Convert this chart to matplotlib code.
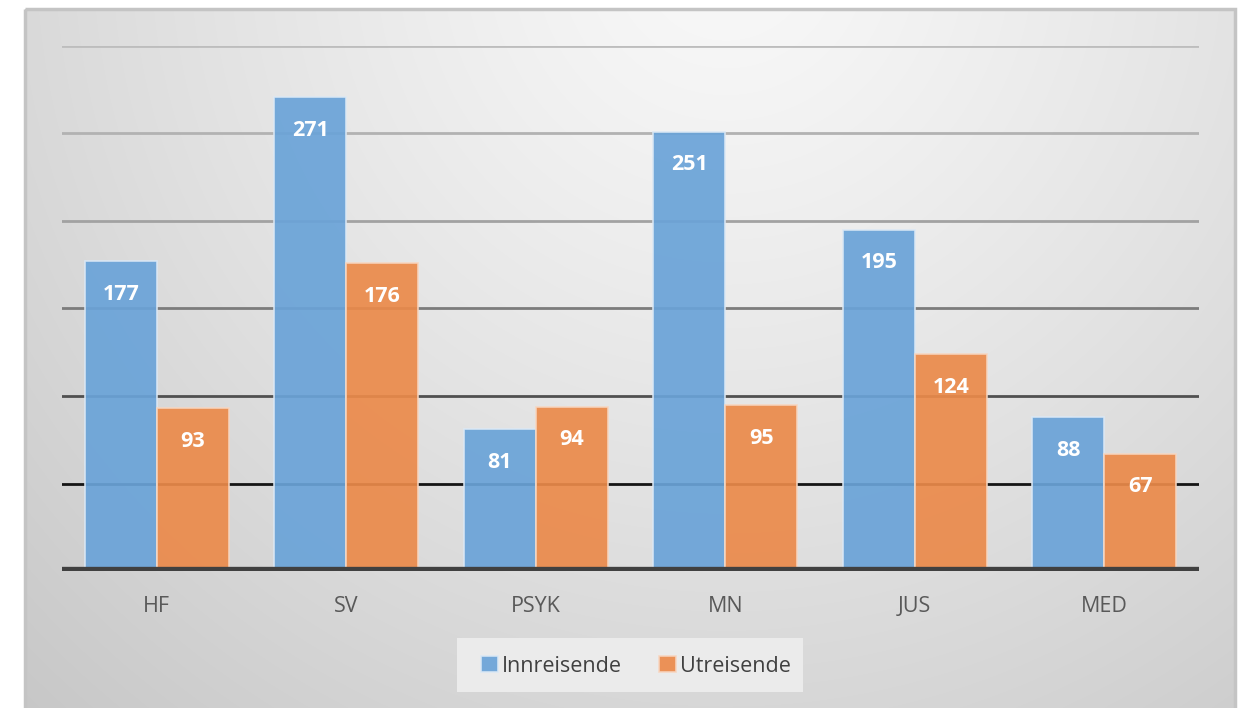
import numpy as np
import matplotlib
matplotlib.use("Agg")
import matplotlib.pyplot as plt
from matplotlib.patches import Rectangle

categories = ["HF", "SV", "PSYK", "MN", "JUS", "MED"]
innreisende = [177, 271, 81, 251, 195, 88]
utreisende = [93, 176, 94, 95, 124, 67]
series_names = ["Innreisende", "Utreisende"]
grid_values = [50, 100, 150, 200, 250, 300]

W, H = 1243, 708
fig = plt.figure(figsize=(W / 100, H / 100), dpi=100)
fig.patch.set_facecolor("white")

# background gradient panel
bg = fig.add_axes([0, 0, 1, 1], zorder=0)
bg.set_xlim(0, W)
bg.set_ylim(H, 0)
bg.axis("off")
yy, xx = np.mgrid[0:H, 0:W]
d = np.sqrt((xx - 720) ** 2 + ((yy + 60) * 1.0) ** 2)
v = 0.975 - 0.16 * np.clip(d / 900, 0, 1.2) ** 1.2
img = np.dstack([v, v, v])
bg.imshow(img, extent=[25, 1235, 708, 9], aspect="auto", zorder=0)
bg.add_patch(Rectangle((25, 9), 1210, 720, fill=False, edgecolor="#c4c4c4", lw=2.5, zorder=1))
# legend box
bg.add_patch(Rectangle((457, 638), 346, 54, facecolor="#ebebeb", edgecolor="none", zorder=1))

ax = fig.add_axes([62 / W, 137 / H, (1199 - 62) / W, (571 - 46) / H], zorder=2)
ax.patch.set_alpha(0)
ax.set_xlim(-0.5, len(categories) - 0.5)
ax.set_ylim(0, 300)

grid_colors = ["#151515", "#505050", "#7c7c7c", "#a2a2a2", "#b2b2b2", "#bdbdbd"]
for gv, gc in zip(grid_values, grid_colors):
    ax.axhline(gv, color=gc, lw=2, zorder=1)
ax.axhline(0, color="#404040", lw=6, zorder=4)

x = np.arange(len(categories))
bw = 0.38
blue = "#6aa3d8"
orange = "#eb8a4a"
b1 = ax.bar(x - bw / 2, innreisende, bw, color=blue, alpha=0.92, edgecolor="#dbe8f5", lw=1.2, zorder=2)
b2 = ax.bar(x + bw / 2, utreisende, bw, color=orange, alpha=0.92, edgecolor="#f7d6c0", lw=1.2, zorder=2)

for xi, val in zip(x - bw / 2, innreisende):
    ax.text(xi, val - 19, str(val), ha="center", va="center", color="white",
            fontsize=15.5, fontweight="bold", family="Open Sans", zorder=5)
for xi, val in zip(x + bw / 2, utreisende):
    ax.text(xi, val - 19, str(val), ha="center", va="center", color="white",
            fontsize=15.5, fontweight="bold", family="Open Sans", zorder=5)

ax.set_xticks(x)
ax.set_xticklabels(categories, fontsize=15.5, color="#595959", family="Open Sans")
ax.tick_params(axis="x", length=0, pad=18)
ax.set_yticks([])
for s in ax.spines.values():
    s.set_visible(False)

leg = fig.legend([b1, b2], series_names, loc="center", bbox_to_anchor=(636 / W, 1 - 666 / H),
                 ncol=2, frameon=False, handlelength=0.8, handleheight=0.8,
                 handletextpad=0.2, columnspacing=1.7, prop={"family": "Open Sans", "size": 15.5})
for t in leg.get_texts():
    t.set_color("#404040")

fig.savefig("out.png", dpi=100)
